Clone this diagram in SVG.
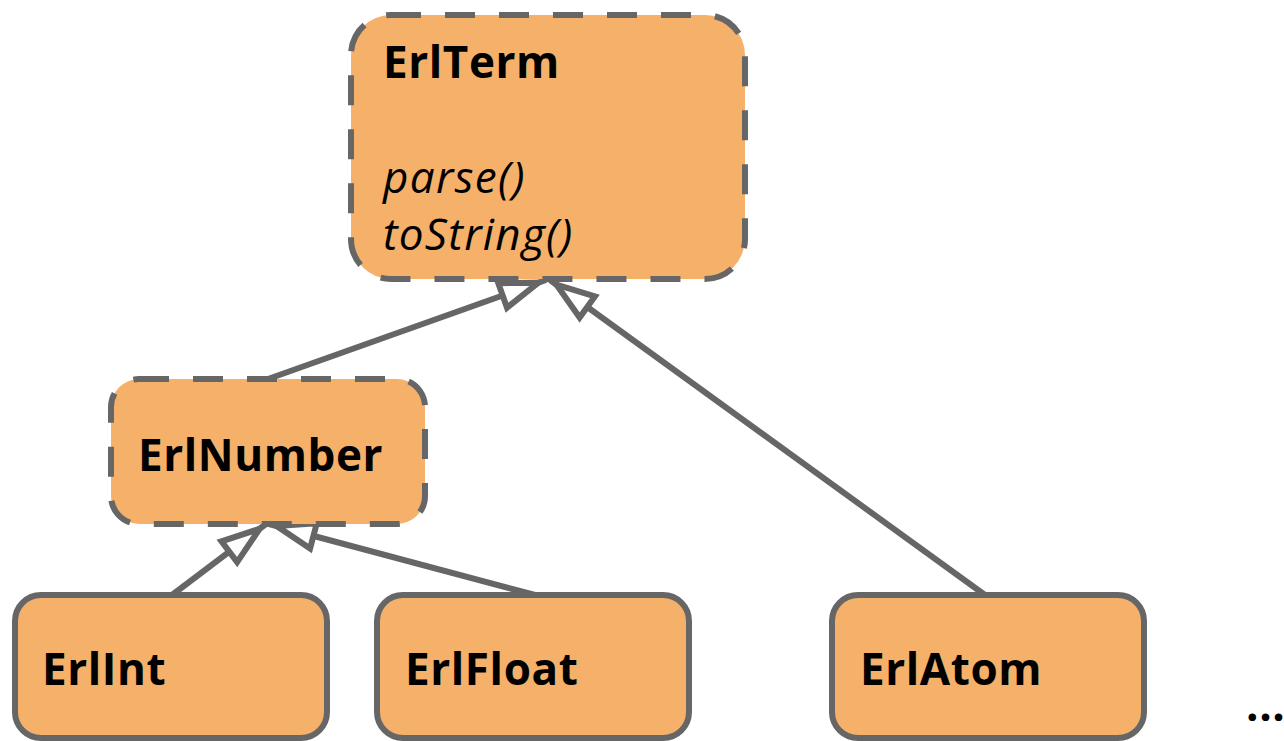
<svg xmlns="http://www.w3.org/2000/svg" width="1284" height="741" viewBox="0 0 1284 741">
  <style>
    .box { fill: #F5B06A; stroke: #666666; stroke-width: 6; }
    .dashed { stroke-dasharray: 30 24; }
    .lbl { font-family: "Open Sans", "Liberation Sans", sans-serif; font-weight: bold; font-size: 44px; letter-spacing: 0.6px; fill: #000; }
    .meth { font-family: "Open Sans", "Liberation Sans", sans-serif; font-style: italic; font-size: 44px; letter-spacing: 1.3px; fill: #000; }
    .conn { stroke: #666666; stroke-width: 6; fill: none; marker-end: url(#tri); }
  </style>
  <defs>
    <marker id="tri" markerUnits="userSpaceOnUse" markerWidth="80" markerHeight="80" refX="46" refY="13" orient="auto" overflow="visible">
      <path d="M0,0 L38,13 L0,26 Z" fill="#ffffff" stroke="#666666" stroke-width="6"/>
    </marker>
  </defs>
  <rect width="1284" height="741" fill="#ffffff"/>
  <g id="connectors">
    <line class="conn" x1="268" y1="379" x2="546" y2="280"/>
    <line class="conn" x1="985" y1="595" x2="550" y2="280"/>
    <line class="conn" x1="172" y1="595" x2="266" y2="524"/>
    <line class="conn" x1="535" y1="595" x2="269" y2="524"/>
  </g>
  <g id="ErlTerm">
    <rect class="box dashed" x="351" y="15" width="394" height="264" rx="40"/>
    <text class="lbl" x="383" y="78">ErlTerm</text>
    <text class="meth" x="383" y="193">parse()</text>
    <text class="meth" x="383" y="250">toString()</text>
  </g>
  <g id="ErlNumber">
    <rect class="box dashed" x="111" y="379" width="314" height="145" rx="28"/>
    <text class="lbl" x="138" y="471">ErlNumber</text>
  </g>
  <g id="ErlInt">
    <rect class="box" x="15" y="595" width="312" height="143" rx="26"/>
    <text class="lbl" x="42" y="685">ErlInt</text>
  </g>
  <g id="ErlFloat">
    <rect class="box" x="377" y="595" width="312" height="143" rx="26"/>
    <text class="lbl" x="405" y="685">ErlFloat</text>
  </g>
  <g id="ErlAtom">
    <rect class="box" x="832" y="595" width="312" height="143" rx="26"/>
    <text class="lbl" x="860" y="685">ErlAtom</text>
  </g>
  <text class="lbl" x="1246" y="721">...</text>
</svg>
